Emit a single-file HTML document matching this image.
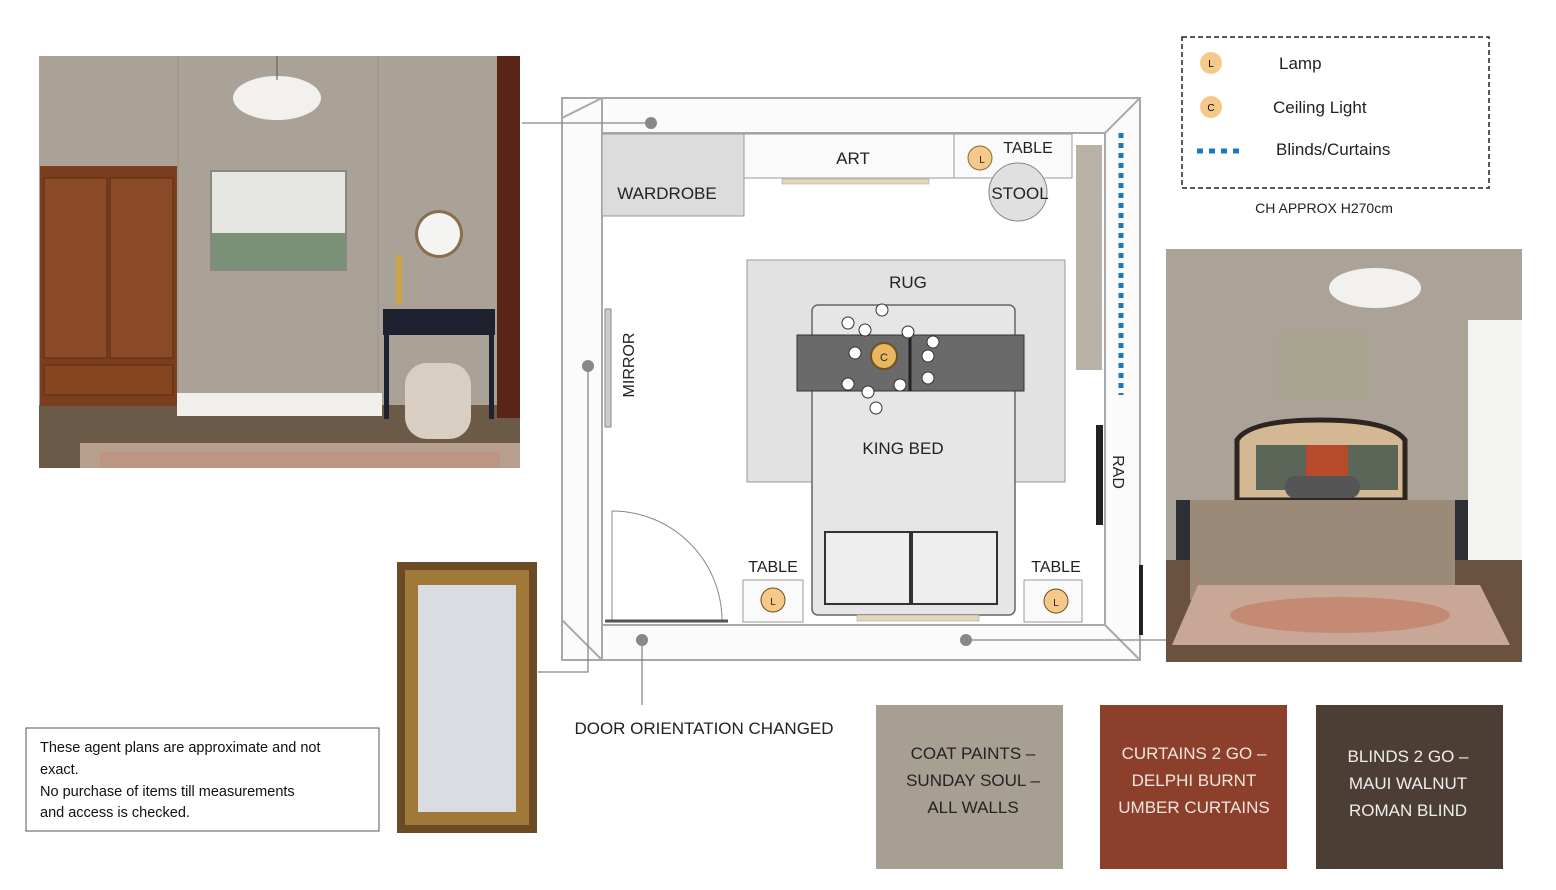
<!DOCTYPE html>
<html><head><meta charset="utf-8"><style>
html,body{margin:0;padding:0;background:#fff;}
svg{display:block;font-family:"Liberation Sans","DejaVu Sans",sans-serif;}
</style></head><body>
<svg width="1556" height="890" viewBox="0 0 1556 890" xmlns="http://www.w3.org/2000/svg">
<rect width="1556" height="890" fill="#fff"/>

<!-- LEFT PHOTO -->
<rect x="39" y="56" width="481" height="412" fill="#aba297"/>
<line x1="178" y1="56" x2="178" y2="392" stroke="#9a9186" stroke-width="1"/>
<line x1="378" y1="56" x2="378" y2="392" stroke="#9a9186" stroke-width="1"/>
<rect x="39" y="405" width="481" height="63" fill="#6c5a48"/>
<rect x="80" y="443" width="440" height="25" fill="#b7a08e"/>
<rect x="100" y="452" width="400" height="16" fill="#c08e7c" opacity="0.6"/>
<rect x="177" y="393" width="205" height="23" fill="#f1efec"/>
<rect x="40" y="166" width="137" height="240" fill="#7a3e1f"/>
<rect x="44" y="178" width="63" height="180" fill="#8b4a27" stroke="#5c2c12"/>
<rect x="110" y="178" width="63" height="180" fill="#8b4a27" stroke="#5c2c12"/>
<rect x="44" y="365" width="129" height="30" fill="#84451f" stroke="#5c2c12"/>
<rect x="497" y="56" width="23" height="362" fill="#5a2418"/>
<rect x="210" y="170" width="137" height="101" fill="#8a8780"/>
<rect x="212" y="172" width="133" height="62" fill="#e6e6e2"/>
<rect x="212" y="233" width="133" height="36" fill="#7a9178"/>
<ellipse cx="277" cy="98" rx="44" ry="22" fill="#f2f1ee"/>
<line x1="277" y1="56" x2="277" y2="80" stroke="#555"/>
<circle cx="439" cy="234" r="24" fill="#8a6e4e"/>
<circle cx="439" cy="234" r="21" fill="#f4f4f2"/>
<rect x="396" y="255" width="6" height="50" fill="#c9a44b"/>
<rect x="383" y="309" width="112" height="26" fill="#1d2130"/>
<rect x="384" y="335" width="5" height="84" fill="#1d2130"/>
<rect x="489" y="335" width="5" height="84" fill="#1d2130"/>
<rect x="405" y="363" width="66" height="76" rx="22" fill="#d8cfc2"/>

<!-- PLAN -->
<g fill="none" stroke="#a8a8a8" stroke-width="2">
<rect x="562" y="98" width="578" height="562" fill="#fbfbfb"/>
<rect x="602" y="133" width="503" height="492" fill="#fff"/>
<line x1="562" y1="118" x2="602" y2="98"/>
<line x1="602" y1="98" x2="602" y2="133"/>
<line x1="1105" y1="133" x2="1140" y2="98"/>
<line x1="1105" y1="625" x2="1140" y2="660"/>
<line x1="562" y1="620" x2="602" y2="660"/>
<line x1="602" y1="625" x2="602" y2="660"/>
</g>
<!-- wardrobe/art/table/stool -->
<rect x="602" y="134" width="142" height="82" fill="#dcdcdc" stroke="#999"/>
<text x="667" y="199" font-size="17" text-anchor="middle" fill="#222">WARDROBE</text>
<rect x="744" y="134" width="210" height="44" fill="#fafafa" stroke="#999"/>
<text x="853" y="164" font-size="17" text-anchor="middle" fill="#222">ART</text>
<rect x="782" y="179" width="147" height="5" fill="#e3d7b8" stroke="#999" stroke-width="0.5"/>
<rect x="954" y="134" width="118" height="44" fill="#fafafa" stroke="#999"/>
<circle cx="1018" cy="192" r="29" fill="#e0e0e0" stroke="#888"/>
<text x="1020" y="199" font-size="17" text-anchor="middle" fill="#222">STOOL</text>
<text x="1028" y="153" font-size="16" text-anchor="middle" fill="#222">TABLE</text>
<circle cx="980" cy="158" r="12" fill="#f5c98a" stroke="#8a6a3a"/>
<text x="982" y="163" font-size="10" text-anchor="middle" fill="#222">L</text>
<!-- mirror -->
<rect x="605" y="309" width="6" height="118" fill="#ccc" stroke="#888"/>
<text transform="translate(634,365) rotate(-90)" font-size="16" text-anchor="middle" fill="#222">MIRROR</text>
<!-- rug -->
<rect x="747" y="260" width="318" height="222" fill="#e2e2e2" stroke="#999"/>
<text x="908" y="288" font-size="17" text-anchor="middle" fill="#222">RUG</text>
<!-- bed -->
<rect x="812" y="305" width="203" height="310" rx="6" fill="#e6e6e6" stroke="#666" stroke-width="1.5"/>
<rect x="797" y="335" width="227" height="56" fill="#6a6a6a" stroke="#333"/>
<line x1="910" y1="335" x2="910" y2="391" stroke="#222" stroke-width="3"/>
<text x="903" y="454" font-size="17" text-anchor="middle" fill="#222">KING  BED</text>
<rect x="825" y="532" width="85" height="72" fill="#eee" stroke="#333" stroke-width="2"/>
<rect x="912" y="532" width="85" height="72" fill="#eee" stroke="#333" stroke-width="2"/>
<rect x="857" y="615" width="122" height="6" fill="#e3d7b8" stroke="#999" stroke-width="0.5"/>
<g fill="#fff" stroke="#333">
<circle cx="882" cy="310" r="6"/><circle cx="848" cy="323" r="6"/><circle cx="865" cy="330" r="6"/>
<circle cx="908" cy="332" r="6"/><circle cx="933" cy="342" r="6"/><circle cx="928" cy="356" r="6"/>
<circle cx="928" cy="378" r="6"/><circle cx="848" cy="384" r="6"/><circle cx="868" cy="392" r="6"/>
<circle cx="876" cy="408" r="6"/><circle cx="900" cy="385" r="6"/><circle cx="855" cy="353" r="6"/>
</g>
<circle cx="884" cy="356" r="13" fill="#e8b860" stroke="#6b5020" stroke-width="2"/>
<text x="884" y="361" font-size="11" text-anchor="middle" fill="#222">C</text>
<!-- door -->
<path d="M612,511 L612,620 L722,620 A110,110 0 0 0 612,511" fill="none" stroke="#888"/>
<line x1="605" y1="621" x2="728" y2="621" stroke="#555" stroke-width="3"/>
<!-- bedside tables -->
<rect x="743" y="580" width="60" height="42" fill="#fafafa" stroke="#999"/>
<text x="773" y="572" font-size="16" text-anchor="middle" fill="#222">TABLE</text>
<circle cx="773" cy="600" r="12" fill="#f5c98a" stroke="#6b5020"/>
<text x="773" y="605" font-size="10" text-anchor="middle" fill="#222">L</text>
<rect x="1024" y="580" width="58" height="42" fill="#fafafa" stroke="#999"/>
<text x="1056" y="572" font-size="16" text-anchor="middle" fill="#222">TABLE</text>
<circle cx="1056" cy="601" r="12" fill="#f5c98a" stroke="#6b5020"/>
<text x="1056" y="606" font-size="10" text-anchor="middle" fill="#222">L</text>
<!-- right side: curtains, blinds, rad -->
<rect x="1076" y="145" width="26" height="225" fill="#9a9080" opacity="0.7"/>
<line x1="1121" y1="133" x2="1121" y2="395" stroke="#1a78c2" stroke-width="5" stroke-dasharray="5,5"/>
<rect x="1096" y="425" width="7" height="100" fill="#222"/>
<text transform="translate(1113,472) rotate(90)" font-size="16" text-anchor="middle" fill="#222">RAD</text>
<rect x="1139" y="565" width="4" height="70" fill="#222"/>
<!-- connectors -->
<g stroke="#888" stroke-width="1.3" fill="none">
<line x1="522" y1="123" x2="651" y2="123"/>
<polyline points="588,366 588,672 538,672"/>
<line x1="642" y1="640" x2="642" y2="705"/>
<line x1="966" y1="640" x2="1166" y2="640"/>
</g>
<g fill="#888"><circle cx="651" cy="123" r="6"/><circle cx="588" cy="366" r="6"/><circle cx="642" cy="640" r="6"/><circle cx="966" cy="640" r="6"/></g>
<text x="704" y="734" font-size="17" text-anchor="middle" fill="#222">DOOR ORIENTATION CHANGED</text>

<!-- LEGEND -->
<rect x="1182" y="37" width="307" height="151" fill="none" stroke="#222" stroke-width="1.5" stroke-dasharray="5,3"/>
<circle cx="1211" cy="63" r="11" fill="#f5c98a"/><text x="1211" y="67" font-size="10" text-anchor="middle">L</text>
<circle cx="1211" cy="107" r="11" fill="#f5c98a"/><text x="1211" y="111" font-size="10" text-anchor="middle">C</text>
<line x1="1197" y1="151" x2="1243" y2="151" stroke="#1a78c2" stroke-width="5" stroke-dasharray="6,6"/>
<text x="1279" y="69" font-size="17" fill="#222">Lamp</text>
<text x="1273" y="113" font-size="17" fill="#222">Ceiling Light</text>
<text x="1276" y="155" font-size="17" fill="#222">Blinds/Curtains</text>
<text x="1324" y="213" font-size="14" text-anchor="middle" fill="#222">CH APPROX H270cm</text>

<!-- RIGHT PHOTO -->
<rect x="1166" y="249" width="356" height="413" fill="#aca398"/>
<rect x="1166" y="560" width="356" height="102" fill="#6b523e"/>
<rect x="1468" y="320" width="54" height="240" fill="#f3f3f1"/>
<rect x="1278" y="332" width="91" height="68" fill="#a9a48f"/>
<ellipse cx="1375" cy="288" rx="46" ry="20" fill="#f2f1ee"/>
<rect x="1176" y="500" width="36" height="60" fill="#2e2f35"/>
<rect x="1432" y="500" width="36" height="60" fill="#2e2f35"/>
<path d="M1237,500 L1237,440 Q1250,420 1320,420 Q1390,420 1405,440 L1405,500 Z" fill="#d2b893" stroke="#2e2520" stroke-width="5"/>
<rect x="1306" y="445" width="42" height="32" fill="#b84a2c"/>
<rect x="1256" y="445" width="50" height="45" fill="#5b6659"/>
<rect x="1348" y="445" width="50" height="45" fill="#5b6659"/>
<rect x="1285" y="476" width="75" height="22" rx="10" fill="#555"/>
<path d="M1190,500 L1455,500 L1455,600 L1190,600 Z" fill="#9b8a77"/>
<path d="M1172,645 L1198,585 L1480,585 L1510,645 Z" fill="#c8a796"/>
<ellipse cx="1340" cy="615" rx="110" ry="18" fill="#c58a74"/>

<!-- MIRROR PHOTO -->
<rect x="397" y="562" width="140" height="271" fill="#6b4a26"/>
<rect x="405" y="570" width="124" height="255" fill="#a07838"/>
<rect x="418" y="585" width="98" height="227" fill="#d9dde2"/>

<!-- NOTE -->
<rect x="26" y="728" width="353" height="103" fill="#fff" stroke="#555" stroke-width="1"/>
<text font-size="14.5" fill="#111">
<tspan x="40" y="752">These agent plans are approximate and not</tspan>
<tspan x="40" y="774">exact.</tspan>
<tspan x="40" y="796">No purchase of items till measurements</tspan>
<tspan x="40" y="817">and access is checked.</tspan>
</text>

<!-- SWATCHES -->
<rect x="876" y="705" width="187" height="164" fill="#a89f93"/>
<text font-size="17" fill="#222" text-anchor="middle">
<tspan x="973" y="759">COAT PAINTS –</tspan><tspan x="973" y="786">SUNDAY SOUL –</tspan><tspan x="973" y="813">ALL WALLS</tspan></text>
<rect x="1100" y="705" width="187" height="164" fill="#8c3f2b"/>
<text font-size="17" fill="#f0e6e0" text-anchor="middle">
<tspan x="1194" y="759">CURTAINS 2 GO –</tspan><tspan x="1194" y="786">DELPHI BURNT</tspan><tspan x="1194" y="813">UMBER CURTAINS</tspan></text>
<rect x="1316" y="705" width="187" height="164" fill="#4d3e35"/>
<text font-size="17" fill="#eee" text-anchor="middle">
<tspan x="1408" y="762">BLINDS 2 GO –</tspan><tspan x="1408" y="789">MAUI WALNUT</tspan><tspan x="1408" y="816">ROMAN BLIND</tspan></text>
</svg>
</body></html>
